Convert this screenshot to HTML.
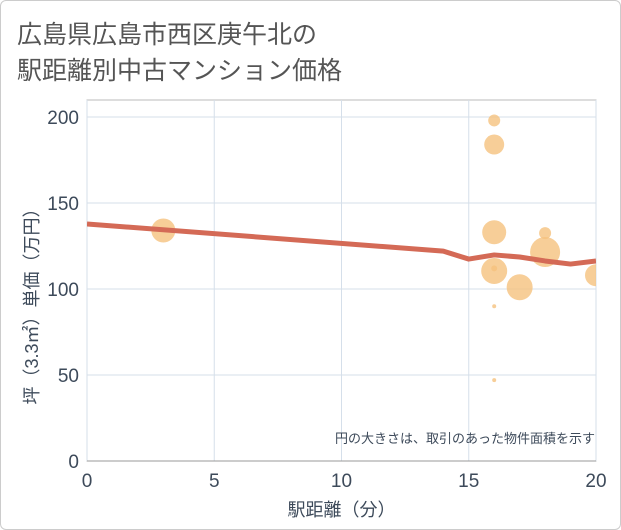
<!DOCTYPE html>
<html><head><meta charset="utf-8"><style>
body{margin:0;background:#fff;}
#wrap{position:relative;width:619px;height:528px;border:1px solid #ccc;border-radius:6px;background:#fff;overflow:hidden;font-family:"Liberation Sans","Noto Sans CJK JP",sans-serif;}
</style></head><body>
<div id="wrap">
<svg id="chart" width="621" height="530" style="position:absolute;left:-1px;top:-1px">
<text x="17" y="43" font-size="25" fill="#555" font-family="Liberation Sans, Noto Sans CJK JP, sans-serif">広島県広島市西区庚午北の</text>
<text x="17" y="79" font-size="25" fill="#555" font-family="Liberation Sans, Noto Sans CJK JP, sans-serif">駅距離別中古マンション価格</text>
<g id="grid"></g><g id="marks"></g><g id="axes"></g>
</svg>
</div>
<script>
const xTicks=[0,5,10,15,20];
const yTicks=[0,50,100,150,200];
const bubbleX=[3,16,16,16,16,16,16,16,17,18,18,20];
const bubbleY=[134,198,184,133,112,110.5,90,47,101,132.5,121.5,108];
const bubbleR=[12,6,10,12,3,13,2,2,13,6,15,11];
const lineX=[0,14,15,16,17,18,19,20];
const lineY=[137.8,122,117.4,119.8,118.6,116.3,114.5,116.3];
const NS='http://www.w3.org/2000/svg';
const L=87,R=596,T=100,B=461;
const sx=v=>L+(v-0)/20*(R-L);
const sy=v=>B-v/200*(B-117);
const TC='#3d4a5a';
function mk(tag,attrs,parent){const e=document.createElementNS(NS,tag);for(const k in attrs)e.setAttribute(k,attrs[k]);parent.appendChild(e);return e;}
const grid=document.getElementById('grid'),marks=document.getElementById('marks'),axes=document.getElementById('axes');
const clip=mk('clipPath',{id:'pc'},document.getElementById('chart'));mk('rect',{x:L,y:T,width:R-L,height:B-T},clip);
marks.setAttribute('clip-path','url(#pc)');
mk('rect',{x:L,y:T,width:R-L,height:B-T,fill:'none',stroke:'#bbb'},grid);
xTicks.forEach(t=>{const l=mk('line',{x1:sx(t),x2:sx(t),y1:T,y2:B,stroke:'#d5dfea'},grid);

const tx=mk('text',{x:sx(t),y:487,'text-anchor':'middle','font-size':19,fill:TC},axes);tx.textContent=t;
});
yTicks.forEach(t=>{const l=mk('line',{x1:L,x2:R,y1:sy(t),y2:sy(t),stroke:'#d5dfea'},grid);

const tx=mk('text',{x:79,y:sy(t)+7,'text-anchor':'end','font-size':19,fill:TC},axes);tx.textContent=t;
});
mk('line',{x1:L,x2:R,y1:B,y2:B,stroke:'#999'},axes);
bubbleX.forEach((x,i)=>{const c=mk('circle',{cx:sx(x),cy:sy(bubbleY[i]),r:bubbleR[i],fill:'#f5c27e','fill-opacity':0.8},marks);
});
const p=mk('polyline',{points:lineX.map((x,i)=>sx(x)+','+sy(lineY[i])).join(' '),fill:'none',stroke:'#d46a56','stroke-width':5,'stroke-linejoin':'round'},marks);

const note=mk('text',{x:595,y:443,'text-anchor':'end','font-size':13,fill:TC},axes);note.textContent='円の大きさは、取引のあった物件面積を示す';

const xt=mk('text',{x:sx(10),y:516,'text-anchor':'middle','font-size':18,fill:TC},axes);xt.textContent='駅距離（分）';

const yt=mk('text',{x:0,y:0,'text-anchor':'middle','font-size':18,fill:TC,transform:'translate(38,302) rotate(-90)'},axes);yt.textContent='坪（3.3㎡）単価（万円）';

</script>
</body></html>
